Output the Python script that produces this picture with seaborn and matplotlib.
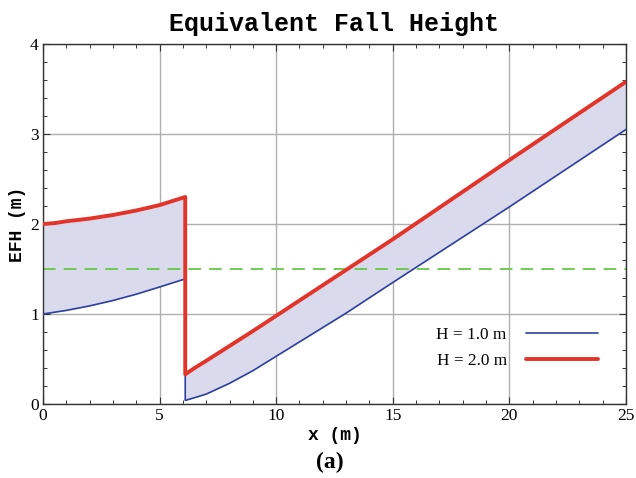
import numpy as np
import pandas as pd
import matplotlib
matplotlib.use("Agg")
import matplotlib.pyplot as plt
import seaborn as sns
from matplotlib.ticker import MultipleLocator

# ---- data ----
seg1_x = [0, 0.5, 1, 2, 3, 4, 5, 6.1]
h1_seg1 = [1.00, 1.02, 1.04, 1.09, 1.15, 1.22, 1.30, 1.39]
h2_seg1 = [2.00, 2.01, 2.03, 2.06, 2.10, 2.15, 2.21, 2.30]
seg2_x = [6.1, 6.5, 7, 8, 9, 10, 11, 12, 13, 14, 15, 17.5, 20, 22.5, 25]
h1_seg2 = [0.04, 0.07, 0.11, 0.23, 0.37, 0.53, 0.69, 0.85, 1.01, 1.18, 1.35,
           1.77, 2.19, 2.62, 3.05]
h2_seg2 = [0.33, 0.40, 0.48, 0.645, 0.81, 0.98, 1.15, 1.32, 1.49, 1.66, 1.83,
           2.27, 2.71, 3.145, 3.58]
threshold = 1.5
labels = ["H = 1.0 m", "H = 2.0 m"]
x_ticks = [0, 5, 10, 15, 20, 25]
y_ticks = [0, 1, 2, 3, 4]

sns.set_style("ticks")
plt.rcParams['font.family'] = ['Liberation Serif', 'DejaVu Serif']
plt.rcParams['text.color'] = 'black'
plt.rcParams['axes.labelcolor'] = 'black'

fig = plt.figure(figsize=(6.36, 4.78), dpi=100)
ax = fig.add_axes([0.0676, 0.1548, 0.9166, 0.7532])

blue = "#2e3f9e"
red = "#e3342a"
fill_c = "#dadaed"

# fills between curves
ax.fill_between(seg1_x, h1_seg1, h2_seg1, color=fill_c, lw=0, zorder=1)
ax.fill_between(seg2_x, h1_seg2, h2_seg2, color=fill_c, lw=0, zorder=1)

df1 = pd.DataFrame({"x": seg1_x + seg2_x, "y": h1_seg1 + h1_seg2})
df2 = pd.DataFrame({"x": seg1_x + seg2_x, "y": h2_seg1 + h2_seg2})

sns.lineplot(data=df1, x="x", y="y", sort=False, estimator=None, color=blue,
             lw=1.2, ax=ax, label=labels[0], zorder=3)
sns.lineplot(data=df2, x="x", y="y", sort=False, estimator=None, color=red,
             lw=2.8, ax=ax, label=labels[1], zorder=4)

ax.axhline(threshold, color="#66c84a", lw=1.3, dashes=(7, 4.5), zorder=2)

ax.set_xlim(0, 25)
ax.set_ylim(0, 4)
ax.set_xticks(x_ticks)
ax.set_yticks(y_ticks)
ax.xaxis.set_minor_locator(MultipleLocator(1))
ax.yaxis.set_minor_locator(MultipleLocator(0.2))
ax.grid(True, which="major", color="#b0b0b0", lw=1.0, zorder=0)
ax.set_axisbelow(True)
ax.tick_params(which="both", direction="in", top=True, right=True,
               colors="#333333", labelcolor="black")
ax.tick_params(which="major", length=5, width=0.8, labelsize=12.5, pad=3)
ax.tick_params(which="minor", length=3, width=0.7)
for s in ax.spines.values():
    s.set_color("#333333")
    s.set_linewidth(1.0)

mono = ['Liberation Mono', 'DejaVu Sans Mono']
ax.set_title("Equivalent Fall Height", fontfamily=mono, fontweight="bold",
             fontsize=18, pad=9, color="black")
ax.set_xlabel("x (m)", fontfamily=mono, fontweight="bold", fontsize=13, labelpad=2)
ax.set_ylabel("EFH (m)", fontfamily=mono, fontweight="bold", fontsize=13, labelpad=3)

fig.text(0.518, 0.032, "(a)", ha="center", va="center", fontsize=17,
         fontweight="bold", family=['Liberation Serif'])

leg = ax.legend(loc="upper right", bbox_to_anchor=(0.952, 0.215),
                frameon=False, markerfirst=False, fontsize=12.4,
                handlelength=4.2, handletextpad=1.1, labelspacing=0.62,
                borderaxespad=0, borderpad=0)

fig.savefig("out.png", dpi=100)
